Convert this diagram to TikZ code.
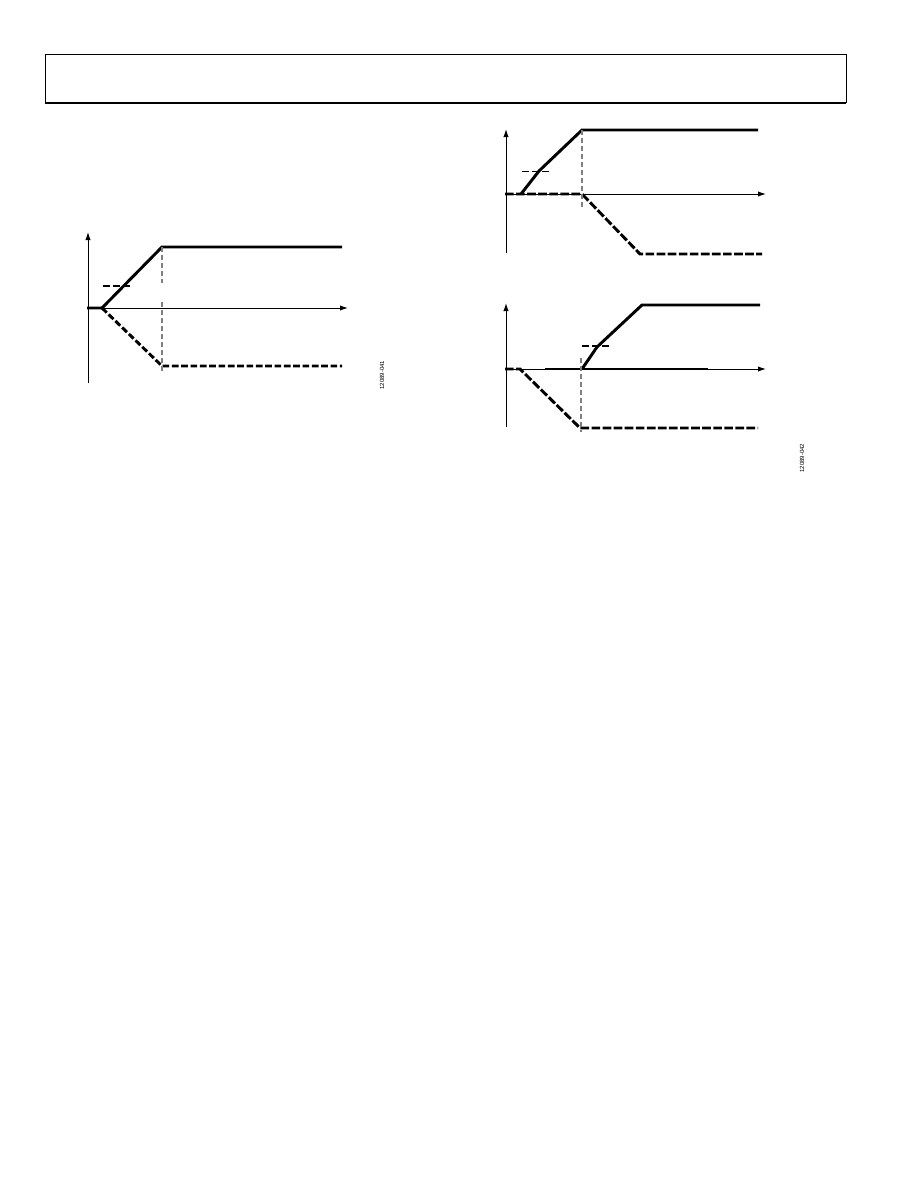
\documentclass[tikz,border=0pt]{standalone}
\usepackage{fontspec}
\setsansfont{Liberation Sans}
\usepackage{tikz}
\usetikzlibrary{arrows.meta}

\tikzset{
  curve/.style={line width=2.2pt},
  dcurve/.style={line width=2.2pt, dash pattern=on 5pt off 2pt},
  ddcurve/.style={line width=2.2pt, dash pattern=on 6.5pt off 1.8pt},
  guide/.style={gray, line width=0.8pt, dash pattern=on 4pt off 2pt},
  level/.style={line width=1pt, dash pattern=on 5pt off 2.5pt},
  axis/.style={-{Latex[length=6pt,width=4pt]}, line width=0.75pt},
  figno/.style={rotate=90, font=\sffamily\fontsize{4.5}{4.5}\selectfont}
}

\begin{document}
\begin{tikzpicture}[x=0.75pt, y=-0.75pt]
\useasboundingbox (0,0) rectangle (918,1188);

% header box
\draw[line width=0.75pt] (45,103) -- (45,55) -- (846,55) -- (846,103);
\draw[line width=2pt] (44.6,103) -- (846.4,103);

% left graph
\draw[axis] (88,383) -- (88,232);
\draw[axis] (87,308) -- (348,308);
\draw[curve] (87,308) -- (102,308) -- (162,247) -- (342,247);
\draw[dcurve] (102,308) -- (162,366) -- (342,366);
\draw[level] (103,286) -- (130,286);
\draw[guide] (162,247) -- (162,283);
\draw[guide] (162,302) -- (162,372);
\node[figno] (fig41) at (382,375) {12089-041};

% right graph, top
\draw[axis] (506,253) -- (506,129);
\draw[axis] (505,194) -- (766,194);
\draw[curve] (521,194) -- (539,171) -- (582,130) -- (758,130);
\draw[ddcurve] (505,194) -- (582,194) -- (640,254) -- (762,254);
\draw[level, line width=0.75pt] (522,171) -- (550,171);
\draw[guide] (582,130) -- (582,208);

% right graph, bottom
\draw[axis] (506,427) -- (506,303);
\draw[axis] (505,369) -- (766,369);
\draw[curve] (545,369) -- (708,369);
\draw[curve] (582,369) -- (597,347) -- (642,305) -- (760,305);
\draw[ddcurve] (505,369) -- (520,369) -- (580,428) -- (758,428);
\draw[level] (582,346) -- (610,346);
\draw[guide] (581,358) -- (581,432);
\node[figno] (fig42) at (802,458) {12089-042};
\end{tikzpicture}
\end{document}
